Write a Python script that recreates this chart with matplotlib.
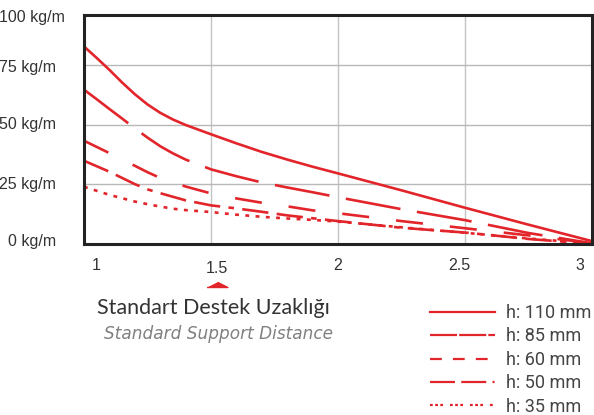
import matplotlib
matplotlib.use("Agg")
import matplotlib.pyplot as plt
from matplotlib.lines import Line2D
from matplotlib import transforms, font_manager

plt.rcParams['lines.scale_dashes'] = False

# ---- data ----
distance = [1.0, 1.05, 1.1, 1.15, 1.2, 1.25, 1.3, 1.35, 1.4, 1.5, 1.6, 1.7, 1.8, 1.9,
            2.0, 2.25, 2.5, 2.75, 3.0]
h110 = [82.8, 78.0, 73.0, 67.7, 62.8, 58.5, 55.0, 52.2, 49.9, 46.0, 42.2, 38.6, 35.4, 32.4,
        29.6, 22.5, 15.2, 8.1, 1.2]
h85 = [64.7, 60.7, 56.6, 52.6, 48.5, 44.6, 41.0, 38.0, 35.4, 31.3, 28.4, 25.8, 23.7, 21.7,
       19.6, 14.6, 10.0, 4.6, 0.3]
h60 = [43.3, 40.7, 38.1, 35.4, 32.8, 30.1, 27.7, 25.9, 24.1, 21.2, 19.1, 17.3, 15.8, 14.1,
       12.9, 9.6, 6.6, 3.6, 0.3]
h50 = [34.9, 32.6, 30.3, 27.7, 25.1, 22.9, 21.3, 19.8, 18.3, 16.2, 14.9, 13.5, 12.0, 10.8,
       9.6, 6.8, 4.8, 2.1, 0.1]
h35 = [24.0, 22.3, 20.6, 19.2, 17.8, 16.7, 15.7, 14.8, 14.2, 13.4, 12.3, 11.4, 10.7, 10.1,
       9.4, 7.0, 4.7, 2.3, 0.2]
series_labels = ["h: 110 mm", "h: 85 mm", "h: 60 mm", "h: 50 mm", "h: 35 mm"]
x_ticks = [1, 1.5, 2, 2.5, 3]
x_tick_labels = ["1", "1.5", "2", "2.5", "3"]
y_ticks = [0, 25, 50, 75, 96]
y_tick_labels = ["0 kg/m", "25 kg/m", "50 kg/m", "75 kg/m", "100 kg/m"]
title_tr = "Standart Destek Uzaklığı"
title_en = "Standard Support Distance"

RED = '#e2252b'
W, H = 594, 415

avail = {f.name for f in font_manager.fontManager.ttflist}
tick_font = 'Liberation Sans Narrow' if 'Liberation Sans Narrow' in avail else 'Liberation Sans'
title_font = 'Lato' if 'Lato' in avail else 'DejaVu Sans'
legend_font = 'Roboto' if 'Roboto' in avail else 'DejaVu Sans'

fig = plt.figure(figsize=(W / 100, H / 100), dpi=100)
ax = fig.add_axes([84 / W, 1 - 244 / H, (592 - 84) / W, (244 - 15) / H])

lw = 1.9
plot_styles = [
    dict(linestyle='-'),
    dict(dashes=(40, 12)),
    dict(dashes=(19.5, 19.5)),
    dict(dashes=(19, 6, 19, 6, 4, 6)),
    dict(dashes=(2.8, 4.6)),
]
series = [h110, h85, h60, h50, h35]
for vals, st in zip(series, plot_styles):
    ax.plot(distance, vals, color=RED, lw=lw, solid_capstyle='butt',
            dash_capstyle='butt', solid_joinstyle='round', **st)

ax.set_xlim(1, 3)
ax.set_ylim(0, 96)
ax.set_xticks(x_ticks)
ax.set_xticklabels(x_tick_labels)
ax.set_yticks(y_ticks)
ax.set_yticklabels(y_tick_labels)
ax.tick_params(length=0, labelsize=11.5, labelcolor='#333333')
ax.tick_params(axis='y', pad=20)
ax.tick_params(axis='x', pad=10)
for lab in ax.get_xticklabels() + ax.get_yticklabels():
    lab.set_fontfamily(tick_font)

# per-label nudges (pixels)
x_off = [(12, 0), (6, -3), (0, 0), (-6, 0), (-12, 0)]
for lab, (dx, dy) in zip(ax.get_xticklabels(), x_off):
    lab.set_transform(lab.get_transform() +
                      transforms.ScaledTranslation(dx / 100, dy / 100, fig.dpi_scale_trans))
y_off = [(0, 4), (0, 1), (0, 2), (0, -1), (9, -1)]
for lab, (dx, dy) in zip(ax.get_yticklabels(), y_off):
    lab.set_transform(lab.get_transform() +
                      transforms.ScaledTranslation(dx / 100, dy / 100, fig.dpi_scale_trans))

# grid
for gx in [1.5, 2, 2.5]:
    ax.axvline(gx, color='#c4c4c4', lw=1.0, zorder=0)
for gy in [25, 50, 75]:
    ax.axhline(gy, color='#b8b8b8', lw=1.0, zorder=0)

for sp in ax.spines.values():
    sp.set_color('#222222')
    sp.set_linewidth(2.2)

# red triangle marker below 1.5
tri_tr = transforms.blended_transform_factory(ax.transData, fig.transFigure) + \
    transforms.ScaledTranslation(6 / 100, 0, fig.dpi_scale_trans)
ax.plot([1.5], [1 - 286.5 / H], marker=[(-2, 0), (2, 0), (0, 1)], markersize=15,
        color=RED, transform=tri_tr, clip_on=False, linestyle='none')

# titles
fig.text(213 / W, 1 - 314 / H, title_tr, ha='center', va='baseline',
         fontsize=15.5, color='#333333', family=title_font)
fig.text(218 / W, 1 - 339 / H, title_en, ha='center', va='baseline',
         fontsize=12.2, color='#808080', style='italic', family='DejaVu Sans')

# legend
legend_styles = [
    dict(linestyle='-'),
    dict(dashes=(19.5, 1.5)),
    dict(dashes=(8.5, 8)),
    dict(dashes=(18, 4.5, 18, 4.5, 1.5, 4.5)),
    dict(dashes=(2, 1.7, 2, 1.7, 2, 5)),
]
handles = [Line2D([0], [0], color=RED, lw=1.6, dash_capstyle='butt', **st)
           for st in legend_styles]
leg = fig.legend(handles, series_labels, loc='upper left',
                 bbox_to_anchor=(430 / W, 1 - 304 / H), frameon=False,
                 borderpad=0, borderaxespad=0, handlelength=3.6,
                 handletextpad=0.6, labelspacing=0.3,
                 prop={'size': 13, 'family': legend_font})
for t in leg.get_texts():
    t.set_color('#444444')

fig.savefig('out.png', dpi=100)
